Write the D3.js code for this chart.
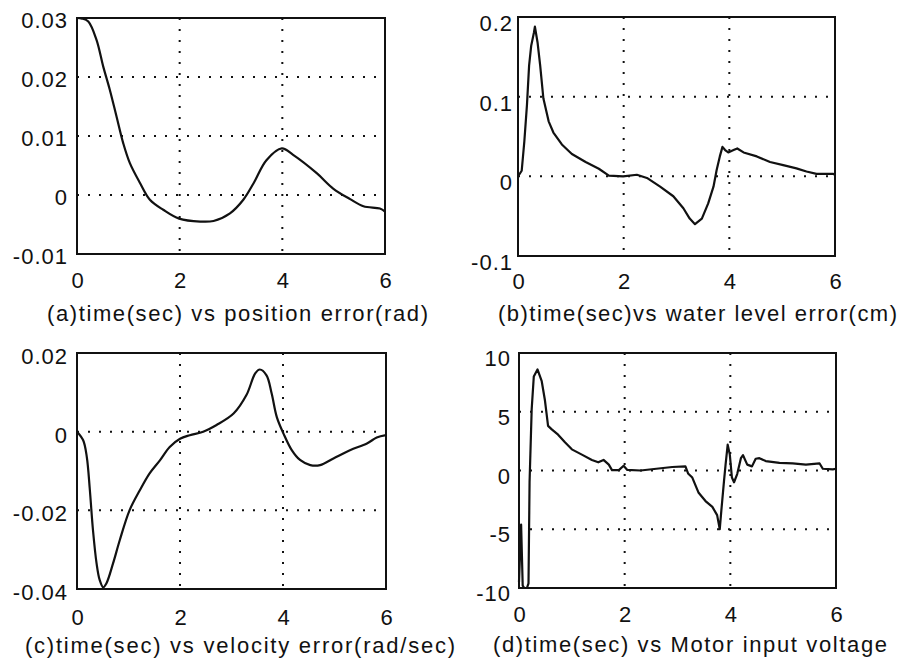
<!DOCTYPE html>
<html>
<head>
<meta charset="utf-8">
<script src="https://cdn.jsdelivr.net/npm/d3@7"></script>
<style>
  html, body { margin: 0; padding: 0; background: #fff; }
  svg { display: block; }
  text { font-family: "Liberation Sans", Arial, sans-serif; fill: #111; }
</style>
</head>
<body>
<svg id="chart" width="903" height="663"></svg>
<script>
// ---------------- data ----------------
const xTickValues = [0, 2, 4, 6];
const xTickLabels = ["0", "2", "4", "6"];

const titles = [
  "(a)time(sec) vs position error(rad)",
  "(b)time(sec)vs water level error(cm)",
  "(c)time(sec) vs velocity error(rad/sec)",
  "(d)time(sec) vs Motor input voltage"
];

// (a) position error
const aTickValues = [-0.01, 0, 0.01, 0.02, 0.03];
const aTickLabels = ["-0.01", "0", "0.01", "0.02", "0.03"];
const aTime  = [0, 0.1, 0.22, 0.38, 0.51, 0.64, 0.77, 0.9, 1.03, 1.23, 1.42, 1.68, 1.99, 2.4, 2.66, 2.98, 3.24, 3.44, 3.69, 3.99, 4.21, 4.67, 4.99, 5.32, 5.58, 5.9, 6.0];
const aValue = [0.03, 0.0299, 0.0294, 0.0263, 0.0218, 0.0178, 0.0133, 0.0088, 0.0054, 0.0020, -0.0008, -0.0025, -0.0040, -0.0045, -0.0044, -0.0031, -0.0008, 0.0020, 0.0059, 0.0079, 0.0068, 0.0037, 0.0011, -0.0007, -0.0019, -0.0023, -0.0028];

// (b) water level error
const bTickValues = [-0.1, 0, 0.1, 0.2];
const bTickLabels = ["-0.1", "0", "0.1", "0.2"];
const bTime  = [0, 0.07, 0.12, 0.17, 0.21, 0.25, 0.3, 0.32, 0.37, 0.42, 0.48, 0.58, 0.67, 0.83, 1.02, 1.28, 1.53, 1.72, 1.99, 2.25, 2.44, 2.69, 2.94, 3.13, 3.25, 3.35, 3.48, 3.6, 3.7, 3.76, 3.82, 3.87, 3.92, 3.98, 4.08, 4.15, 4.27, 4.52, 4.77, 5.02, 5.27, 5.46, 5.65, 5.97, 6.0];
const bValue = [0.0, 0.007, 0.044, 0.09, 0.139, 0.164, 0.18, 0.188, 0.168, 0.139, 0.098, 0.069, 0.055, 0.04, 0.028, 0.018, 0.0095, 0.001, 0.0, 0.002, -0.002, -0.013, -0.025, -0.04, -0.053, -0.06, -0.053, -0.034, -0.013, 0.008, 0.025, 0.037, 0.033, 0.030, 0.033, 0.035, 0.030, 0.025, 0.018, 0.014, 0.010, 0.006, 0.003, 0.003, 0.002];

// (c) velocity error
const cTickValues = [-0.04, -0.02, 0, 0.02];
const cTickLabels = ["-0.04", "-0.02", "0", "0.02"];
const cTime  = [0, 0.12, 0.19, 0.25, 0.31, 0.38, 0.44, 0.51, 0.57, 0.7, 0.83, 1.02, 1.22, 1.41, 1.61, 1.8, 2.0, 2.19, 2.45, 2.71, 3.04, 3.29, 3.46, 3.55, 3.68, 3.78, 3.88, 4.01, 4.17, 4.33, 4.53, 4.72, 4.98, 5.3, 5.63, 5.82, 6.0];
const cValue = [0, -0.0022, -0.0064, -0.0149, -0.025, -0.0335, -0.0377, -0.0396, -0.0386, -0.0335, -0.0276, -0.02, -0.0149, -0.0106, -0.0073, -0.0039, -0.0018, -0.0009, 0.0, 0.0017, 0.0046, 0.0093, 0.0148, 0.0158, 0.0143, 0.0097, 0.0037, -0.0005, -0.0047, -0.0072, -0.0085, -0.0085, -0.0068, -0.0047, -0.003, -0.0015, -0.0009];

// (d) motor input voltage
const dTickValues = [-10, -5, 0, 5, 10];
const dTickLabels = ["-10", "-5", "0", "5", "10"];
const dTime  = [0, 0.04, 0.07, 0.1, 0.15, 0.18, 0.2, 0.24, 0.28, 0.35, 0.43, 0.49, 0.52, 0.55, 0.62, 0.74, 0.87, 1.0, 1.19, 1.38, 1.5, 1.6, 1.7, 1.76, 1.89, 1.98, 2.05, 2.3, 2.6, 2.9, 3.15, 3.2, 3.28, 3.4, 3.53, 3.66, 3.75, 3.8, 3.83, 3.88, 3.91, 3.95, 3.99, 4.03, 4.07, 4.13, 4.2, 4.24, 4.32, 4.41, 4.48, 4.55, 4.67, 4.93, 5.18, 5.43, 5.69, 5.75, 5.94, 6.0];
const dValue = [-9.5, -4.6, -9.8, -10, -10, -9.6, -1, 5.2, 8.0, 8.6, 7.6, 6.0, 4.9, 3.8, 3.5, 3.05, 2.4, 1.8, 1.35, 0.9, 0.7, 0.9, 0.5, 0.03, 0.03, 0.4, 0.05, 0.0, 0.15, 0.3, 0.35, -0.25, -0.6, -1.9, -2.6, -3.1, -3.8, -5.0, -3.4, -0.9, 0.5, 2.2, 1.35, -0.6, -1.0, -0.3, 1.05, 1.3, 0.5, 0.35, 1.0, 1.05, 0.8, 0.65, 0.6, 0.5, 0.6, 0.15, 0.1, 0.15];

// ---------------- layout ----------------
const layout = [
  { left: 77,  right: 385, top: 18,  bottom: 254, yLabelGap: 9, yLabelDy: 2, xLabelBase: 288, titleX: 47,  titleBase: 321, titleLen: 381, curve: "smooth" },
  { left: 518, right: 835, top: 17,  bottom: 256, yLabelGap: 5, yLabelDy: 6, xLabelBase: 289, titleX: 498, titleBase: 321, titleLen: 399, curve: "linear" },
  { left: 77,  right: 386, top: 353, bottom: 589, yLabelGap: 9, yLabelDy: 3, xLabelBase: 625, titleX: 25,  titleBase: 653, titleLen: 430, curve: "smooth" },
  { left: 519, right: 836, top: 353, bottom: 588, yLabelGap: 8, yLabelDy: 5, xLabelBase: 622, titleX: 493, titleBase: 652, titleLen: 394, curve: "linear" }
];

const panelData = [
  { time: aTime, value: aValue, ticks: aTickValues, labels: aTickLabels },
  { time: bTime, value: bValue, ticks: bTickValues, labels: bTickLabels },
  { time: cTime, value: cValue, ticks: cTickValues, labels: cTickLabels },
  { time: dTime, value: dValue, ticks: dTickValues, labels: dTickLabels }
];

const svg = d3.select("#chart");
const ink = "#111";

panelData.forEach((pd, i) => {
  const L = layout[i];
  const x = d3.scaleLinear().domain([0, 6]).range([L.left, L.right]);
  const yDom = d3.extent(pd.ticks);
  const y = d3.scaleLinear().domain(yDom).range([L.bottom, L.top]);
  const g = svg.append("g");

  // grid (dotted)
  const gridG = g.append("g");
  xTickValues.filter(v => v > 0 && v < 6).forEach(v => {
    gridG.append("line")
      .attr("x1", x(v)).attr("x2", x(v))
      .attr("y1", L.top).attr("y2", L.bottom)
      .attr("stroke", ink).attr("stroke-width", 2)
      .attr("stroke-dasharray", "2,9");
  });
  pd.ticks.filter(v => v > yDom[0] && v < yDom[1]).forEach(v => {
    gridG.append("line")
      .attr("x1", L.left).attr("x2", L.right)
      .attr("y1", y(v)).attr("y2", y(v))
      .attr("stroke", ink).attr("stroke-width", 2)
      .attr("stroke-dasharray", "2,9");
  });

  // curve
  const pts = pd.time.map((t, k) => [t, pd.value[k]]);
  const line = d3.line()
    .x(d => x(d[0])).y(d => y(d[1]))
    .curve(L.curve === "smooth" ? d3.curveCatmullRom.alpha(0.5) : d3.curveLinear);
  g.append("path")
    .datum(pts)
    .attr("d", line)
    .attr("fill", "none")
    .attr("stroke", ink)
    .attr("stroke-width", 2.2)
    .attr("stroke-linejoin", "round");

  // box
  g.append("rect")
    .attr("x", L.left).attr("y", L.top)
    .attr("width", L.right - L.left).attr("height", L.bottom - L.top)
    .attr("fill", "none").attr("stroke", ink).attr("stroke-width", 2);

  // y axis labels
  const yAxis = d3.axisLeft(y)
    .tickValues(pd.ticks)
    .tickSize(0)
    .tickPadding(L.yLabelGap)
    .tickFormat((d, k) => pd.labels[k]);
  const ya = g.append("g").attr("transform", `translate(${L.left},0)`).call(yAxis);
  ya.select(".domain").remove();
  ya.selectAll("text")
    .attr("font-size", 22)
    .attr("letter-spacing", 1)
    .attr("fill", ink)
    .attr("dy", null)
    .attr("dominant-baseline", "central")
    .attr("transform", `translate(0,${L.yLabelDy})`);

  // x axis labels
  const xAxis = d3.axisBottom(x)
    .tickValues(xTickValues)
    .tickSize(0)
    .tickPadding(0)
    .tickFormat((d, k) => xTickLabels[k]);
  const xa = g.append("g").attr("transform", `translate(0,${L.xLabelBase})`).call(xAxis);
  xa.select(".domain").remove();
  xa.selectAll("text")
    .attr("font-size", 22)
    .attr("fill", ink)
    .attr("y", 0)
    .attr("dy", null);

  // title
  g.append("text")
    .attr("x", L.titleX)
    .attr("y", L.titleBase)
    .attr("font-size", 22)
    .attr("textLength", L.titleLen)
    .attr("lengthAdjust", "spacing")
    .text(titles[i]);
});
</script>
</body>
</html>
